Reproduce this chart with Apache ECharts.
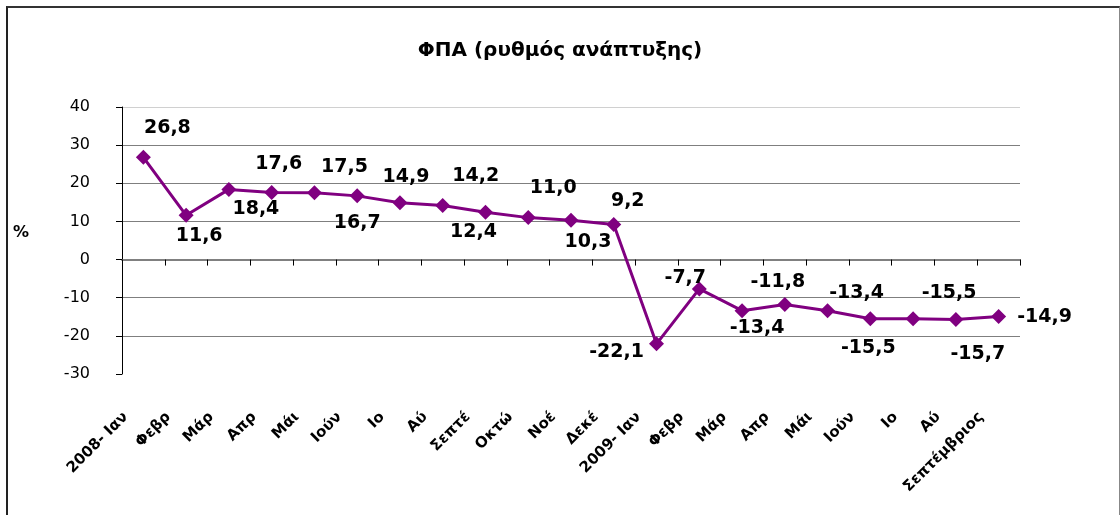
<!DOCTYPE html>
<html>
<head>
<meta charset="utf-8">
<script src="https://cdn.jsdelivr.net/npm/echarts@6/dist/echarts.min.js"></script>
<style>
	body { margin: 0; background: #fff; }
	#main { width: 1120px; height: 515px; }
	#frame {
		position: absolute; left: 6px; top: 6px; width: 1111px; height: 520px;
		border-top: 2px solid #333; border-left: 2px solid #222; border-right: 1px solid #888;
		pointer-events: none;
	}
</style>
</head>
<body>
<div id="main"></div>
<div id="frame"></div>
<script type="text/javascript">
	// μήνες (όπως φαίνονται στον άξονα)
	var months = ['2008- Ιαν', 'Φεβρ', 'Μάρ', 'Απρ', 'Μάι', 'Ιούν', 'Ιο', 'Αύ', 'Σεπτέ', 'Οκτώ', 'Νοέ', 'Δεκέ',
		'2009- Ιαν', 'Φεβρ', 'Μάρ', 'Απρ', 'Μάι', 'Ιούν', 'Ιο', 'Αύ', 'Σεπτέμβριος'];
	// ρυθμός ανάπτυξης ΦΠΑ %
	var vatGrowth = [26.8, 11.6, 18.4, 17.6, 17.5, 16.7, 14.9, 14.2, 12.4, 11.0, 10.3, 9.2,
		-22.1, -7.7, -13.4, -11.8, -13.4, -15.5, -15.5, -15.7, -14.9];
	var yTicks = { min: -30, max: 40, step: 10 };

	// θέση ετικέτας κάθε σημείου (μετατόπιση από το σημείο)
	var labelShift = [[24, -29], [13, 21], [27, 20], [7, -28], [30, -26], [0, 27], [6, -26], [33, -29],
		[-12, 20], [25, -30], [17, 22], [14, -23], [-40, 8], [-14, -11], [15, 17], [-7, -23],
		[29, -18], [-2, 29], [36, -26], [22, 35], [46, 1]];

	var chart = echarts.init(document.getElementById('main'), null, { renderer: 'canvas' });

	var points = [];
	for (var i = 0; i < vatGrowth.length; i++) {
		points.push({
			value: vatGrowth[i],
			label: { offset: labelShift[i] }
		});
	}

	chart.setOption({
		animation: false,
		title: {
			text: 'ΦΠΑ (ρυθμός ανάπτυξης)',
			left: 'center',
			top: 36,
			textStyle: { fontFamily: 'DejaVu Sans', fontWeight: 'bold', fontSize: 20, color: '#000' }
		},
		grid: { left: 122, top: 107, right: 100, bottom: 141 },
		xAxis: [{
			type: 'category',
			data: months,
			position: 'bottom',
			axisLine: { onZero: true, lineStyle: { color: '#808080', width: 2 } },
			axisTick: { show: true, interval: 0, length: 6, lineStyle: { color: '#000' } },
			axisLabel: { show: false, interval: 0 },
			splitLine: { show: false }
		}, {
			type: 'category',
			data: months,
			position: 'bottom',
			axisLine: { show: false, onZero: false },
			axisTick: { show: false },
			axisLabel: {
				rotate: 45,
				interval: 0,
				margin: 23,
				padding: [0, 25, 0, 0],
				fontFamily: 'DejaVu Sans',
				fontWeight: 'bold',
				fontSize: 15,
				color: '#000'
			}
		}],
		yAxis: {
			type: 'value',
			min: yTicks.min,
			max: yTicks.max,
			interval: yTicks.step,
			name: '%',
			nameLocation: 'middle',
			nameRotate: 0,
			nameGap: 93,
			nameTextStyle: { fontFamily: 'DejaVu Sans', fontWeight: 'bold', fontSize: 16, color: '#000', verticalAlign: 'bottom' },
			axisLine: { show: true, lineStyle: { color: '#000', width: 1 } },
			axisTick: { show: true, length: 6, lineStyle: { color: '#000' } },
			axisLabel: { margin: 32, fontFamily: 'DejaVu Sans', fontSize: 16, color: '#000' },
			splitLine: {
				show: true,
				lineStyle: { color: ['transparent', '#7f7f7f', '#7f7f7f', '#7f7f7f', '#7f7f7f', '#7f7f7f', '#7f7f7f', '#d0d0d0'] }
			}
		},
		series: [{
			name: 'ΦΠΑ',
			type: 'line',
			xAxisIndex: 0,
			data: points,
			symbol: 'diamond',
			symbolSize: 15,
			lineStyle: { color: '#800080', width: 3 },
			itemStyle: { color: '#800080' },
			label: {
				show: true,
				position: 'inside',
				align: 'center',
				verticalAlign: 'middle',
				fontFamily: 'DejaVu Sans',
				fontWeight: 'bold',
				fontSize: 19,
				color: '#000',
				formatter: function (p) {
					return p.value.toFixed(1).replace('.', ',');
				}
			}
		}]
	});
</script>
</body>
</html>
